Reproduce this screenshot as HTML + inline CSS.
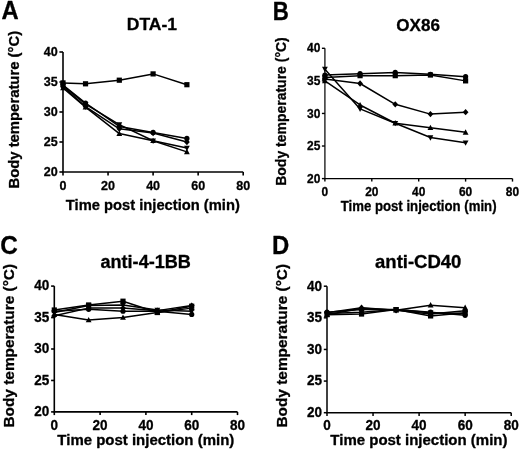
<!DOCTYPE html>
<html><head><meta charset="utf-8"><title>Body temperature</title>
<style>html,body{margin:0;padding:0;background:#fff;}svg{display:block;filter:blur(0.4px);}</style></head>
<body><svg width="520" height="451" viewBox="0 0 520 451" font-family="&quot;Liberation Sans&quot;, sans-serif" font-weight="bold" fill="#000" stroke-linejoin="round">
<style>text{stroke:#000;stroke-width:0.3px;}</style>
<rect width="520" height="451" fill="#fff"/>
<path d="M63.00,52.00V172.00" fill="none" stroke="#000" stroke-width="1.6"/>
<path d="M62.20,172.00H243.20" fill="none" stroke="#000" stroke-width="1.6"/>
<path d="M59.40,52.00H63.00" stroke="#000" stroke-width="1.6"/>
<path d="M59.40,82.00H63.00" stroke="#000" stroke-width="1.6"/>
<path d="M59.40,112.00H63.00" stroke="#000" stroke-width="1.6"/>
<path d="M59.40,142.00H63.00" stroke="#000" stroke-width="1.6"/>
<path d="M59.40,172.00H63.00" stroke="#000" stroke-width="1.6"/>
<path d="M63.00,172.00V175.60" stroke="#000" stroke-width="1.6"/>
<path d="M108.05,172.00V175.60" stroke="#000" stroke-width="1.6"/>
<path d="M153.10,172.00V175.60" stroke="#000" stroke-width="1.6"/>
<path d="M198.15,172.00V175.60" stroke="#000" stroke-width="1.6"/>
<path d="M243.20,172.00V175.60" stroke="#000" stroke-width="1.6"/>
<text x="57.70" y="55.95" font-size="13.2" text-anchor="end" textLength="13.95" lengthAdjust="spacingAndGlyphs">40</text>
<text x="57.70" y="85.95" font-size="13.2" text-anchor="end" textLength="13.95" lengthAdjust="spacingAndGlyphs">35</text>
<text x="57.70" y="115.95" font-size="13.2" text-anchor="end" textLength="13.95" lengthAdjust="spacingAndGlyphs">30</text>
<text x="57.70" y="145.95" font-size="13.2" text-anchor="end" textLength="13.95" lengthAdjust="spacingAndGlyphs">25</text>
<text x="57.70" y="175.95" font-size="13.2" text-anchor="end" textLength="13.95" lengthAdjust="spacingAndGlyphs">20</text>
<text x="63.00" y="190.00" font-size="13.2" text-anchor="middle" textLength="6.97" lengthAdjust="spacingAndGlyphs">0</text>
<text x="108.05" y="190.00" font-size="13.2" text-anchor="middle" textLength="13.95" lengthAdjust="spacingAndGlyphs">20</text>
<text x="153.10" y="190.00" font-size="13.2" text-anchor="middle" textLength="13.95" lengthAdjust="spacingAndGlyphs">40</text>
<text x="198.15" y="190.00" font-size="13.2" text-anchor="middle" textLength="13.95" lengthAdjust="spacingAndGlyphs">60</text>
<text x="243.20" y="190.00" font-size="13.2" text-anchor="middle" textLength="13.95" lengthAdjust="spacingAndGlyphs">80</text>
<path d="M63.00,82.90L85.53,83.80L119.31,80.20L153.10,73.90L186.89,84.70" fill="none" stroke="#000" stroke-width="1.5" stroke-linejoin="round"/>
<rect x="60.40" y="80.30" width="5.20" height="5.20"/>
<rect x="82.93" y="81.20" width="5.20" height="5.20"/>
<rect x="116.71" y="77.60" width="5.20" height="5.20"/>
<rect x="150.50" y="71.30" width="5.20" height="5.20"/>
<rect x="184.29" y="82.10" width="5.20" height="5.20"/>
<path d="M63.00,85.00L85.53,103.00L119.31,126.40L153.10,132.40L186.89,138.40" fill="none" stroke="#000" stroke-width="1.5" stroke-linejoin="round"/>
<circle cx="63.00" cy="85.00" r="2.60"/>
<circle cx="85.53" cy="103.00" r="2.60"/>
<circle cx="119.31" cy="126.40" r="2.60"/>
<circle cx="153.10" cy="132.40" r="2.60"/>
<circle cx="186.89" cy="138.40" r="2.60"/>
<path d="M63.00,86.80L85.53,106.60L119.31,128.80L153.10,133.00L186.89,142.00" fill="none" stroke="#000" stroke-width="1.5" stroke-linejoin="round"/>
<path d="M63.00,83.60L65.90,86.80L63.00,90.00L60.10,86.80Z"/>
<path d="M85.53,103.40L88.42,106.60L85.53,109.80L82.63,106.60Z"/>
<path d="M119.31,125.60L122.21,128.80L119.31,132.00L116.41,128.80Z"/>
<path d="M153.10,129.80L156.00,133.00L153.10,136.20L150.20,133.00Z"/>
<path d="M186.89,138.80L189.79,142.00L186.89,145.20L183.99,142.00Z"/>
<path d="M63.00,85.60L85.53,104.20L119.31,124.60L153.10,140.80L186.89,148.00" fill="none" stroke="#000" stroke-width="1.5" stroke-linejoin="round"/>
<path d="M63.00,88.70L65.90,83.30L60.10,83.30Z"/>
<path d="M85.53,107.30L88.42,101.90L82.63,101.90Z"/>
<path d="M119.31,127.70L122.21,122.30L116.41,122.30Z"/>
<path d="M153.10,143.90L156.00,138.50L150.20,138.50Z"/>
<path d="M186.89,151.10L189.79,145.70L183.99,145.70Z"/>
<path d="M63.00,88.00L85.53,107.20L119.31,133.60L153.10,140.80L186.89,151.90" fill="none" stroke="#000" stroke-width="1.5" stroke-linejoin="round"/>
<path d="M63.00,84.90L65.90,90.30L60.10,90.30Z"/>
<path d="M85.53,104.10L88.42,109.50L82.63,109.50Z"/>
<path d="M119.31,130.50L122.21,135.90L116.41,135.90Z"/>
<path d="M153.10,137.70L156.00,143.10L150.20,143.10Z"/>
<path d="M186.89,148.80L189.79,154.20L183.99,154.20Z"/>
<text x="1.59" y="19.30" font-size="25.0" textLength="17.17" lengthAdjust="spacingAndGlyphs">A</text>
<text x="126.77" y="30.20" font-size="17.2" textLength="50.35" lengthAdjust="spacingAndGlyphs">DTA-1</text>
<text x="65.85" y="209.60" font-size="14.8" textLength="174.01" lengthAdjust="spacingAndGlyphs">Time post injection (min)</text>
<text transform="translate(18.79,188.54) rotate(-90)" x="0" y="0" font-size="15.2" textLength="157.64" lengthAdjust="spacingAndGlyphs">Body temperature (°C)</text>
<path d="M324.90,48.30V178.60" fill="none" stroke="#202020" stroke-width="1.4"/>
<path d="M324.20,178.60H512.50" fill="none" stroke="#000" stroke-width="1.4"/>
<path d="M321.90,48.30H324.90" stroke="#000" stroke-width="1.4"/>
<path d="M321.90,80.87H324.90" stroke="#000" stroke-width="1.4"/>
<path d="M321.90,113.45H324.90" stroke="#000" stroke-width="1.4"/>
<path d="M321.90,146.02H324.90" stroke="#000" stroke-width="1.4"/>
<path d="M321.90,178.60H324.90" stroke="#000" stroke-width="1.4"/>
<path d="M324.90,178.60V181.60" stroke="#000" stroke-width="1.4"/>
<path d="M371.80,178.60V181.60" stroke="#000" stroke-width="1.4"/>
<path d="M418.70,178.60V181.60" stroke="#000" stroke-width="1.4"/>
<path d="M465.60,178.60V181.60" stroke="#000" stroke-width="1.4"/>
<path d="M512.50,178.60V181.60" stroke="#000" stroke-width="1.4"/>
<text x="320.30" y="52.35" font-size="12.6" text-anchor="end" textLength="13.32" lengthAdjust="spacingAndGlyphs">40</text>
<text x="320.30" y="84.92" font-size="12.6" text-anchor="end" textLength="13.32" lengthAdjust="spacingAndGlyphs">35</text>
<text x="320.30" y="117.50" font-size="12.6" text-anchor="end" textLength="13.32" lengthAdjust="spacingAndGlyphs">30</text>
<text x="320.30" y="150.07" font-size="12.6" text-anchor="end" textLength="13.32" lengthAdjust="spacingAndGlyphs">25</text>
<text x="320.30" y="182.65" font-size="12.6" text-anchor="end" textLength="13.32" lengthAdjust="spacingAndGlyphs">20</text>
<text x="324.90" y="195.60" font-size="12.6" text-anchor="middle" textLength="6.66" lengthAdjust="spacingAndGlyphs">0</text>
<text x="371.80" y="195.60" font-size="12.6" text-anchor="middle" textLength="13.32" lengthAdjust="spacingAndGlyphs">20</text>
<text x="418.70" y="195.60" font-size="12.6" text-anchor="middle" textLength="13.32" lengthAdjust="spacingAndGlyphs">40</text>
<text x="465.60" y="195.60" font-size="12.6" text-anchor="middle" textLength="13.32" lengthAdjust="spacingAndGlyphs">60</text>
<text x="512.50" y="195.60" font-size="12.6" text-anchor="middle" textLength="13.32" lengthAdjust="spacingAndGlyphs">80</text>
<path d="M324.90,75.01L360.07,73.71L395.25,72.41L430.43,74.36L465.60,76.64" fill="none" stroke="#000" stroke-width="1.5" stroke-linejoin="round"/>
<circle cx="324.90" cy="75.01" r="2.60"/>
<circle cx="360.07" cy="73.71" r="2.60"/>
<circle cx="395.25" cy="72.41" r="2.60"/>
<circle cx="430.43" cy="74.36" r="2.60"/>
<circle cx="465.60" cy="76.64" r="2.60"/>
<path d="M324.90,77.62L360.07,75.66L395.25,75.66L430.43,75.01L465.60,80.87" fill="none" stroke="#000" stroke-width="1.5" stroke-linejoin="round"/>
<rect x="322.30" y="75.02" width="5.20" height="5.20"/>
<rect x="357.47" y="73.06" width="5.20" height="5.20"/>
<rect x="392.65" y="73.06" width="5.20" height="5.20"/>
<rect x="427.82" y="72.41" width="5.20" height="5.20"/>
<rect x="463.00" y="78.27" width="5.20" height="5.20"/>
<path d="M324.90,78.92L360.07,83.48L395.25,104.33L430.43,114.10L465.60,112.15" fill="none" stroke="#000" stroke-width="1.5" stroke-linejoin="round"/>
<path d="M324.90,75.72L327.80,78.92L324.90,82.12L322.00,78.92Z"/>
<path d="M360.07,80.28L362.98,83.48L360.07,86.68L357.17,83.48Z"/>
<path d="M395.25,101.13L398.15,104.33L395.25,107.53L392.35,104.33Z"/>
<path d="M430.43,110.90L433.33,114.10L430.43,117.30L427.52,114.10Z"/>
<path d="M465.60,108.95L468.50,112.15L465.60,115.35L462.70,112.15Z"/>
<path d="M324.90,80.87L360.07,104.98L395.25,123.22L430.43,127.78L465.60,132.34" fill="none" stroke="#000" stroke-width="1.5" stroke-linejoin="round"/>
<path d="M324.90,77.77L327.80,83.17L322.00,83.17Z"/>
<path d="M360.07,101.88L362.98,107.28L357.17,107.28Z"/>
<path d="M395.25,120.12L398.15,125.52L392.35,125.52Z"/>
<path d="M430.43,124.68L433.33,130.08L427.52,130.08Z"/>
<path d="M465.60,129.24L468.50,134.64L462.70,134.64Z"/>
<path d="M324.90,69.15L360.07,108.89L395.25,123.22L430.43,137.56L465.60,142.77" fill="none" stroke="#000" stroke-width="1.5" stroke-linejoin="round"/>
<path d="M324.90,72.25L327.80,66.85L322.00,66.85Z"/>
<path d="M360.07,111.99L362.98,106.59L357.17,106.59Z"/>
<path d="M395.25,126.32L398.15,120.92L392.35,120.92Z"/>
<path d="M430.43,140.66L433.33,135.26L427.52,135.26Z"/>
<path d="M465.60,145.87L468.50,140.47L462.70,140.47Z"/>
<text x="272.64" y="19.80" font-size="25.5" textLength="16.10" lengthAdjust="spacingAndGlyphs">B</text>
<text x="396.32" y="30.50" font-size="17.0" textLength="43.61" lengthAdjust="spacingAndGlyphs">OX86</text>
<text x="340.67" y="211.30" font-size="14.3" textLength="155.93" lengthAdjust="spacingAndGlyphs">Time post injection (min)</text>
<text transform="translate(286.07,185.78) rotate(-90)" x="0" y="0" font-size="14.6" textLength="148.53" lengthAdjust="spacingAndGlyphs">Body temperature (°C)</text>
<path d="M54.30,286.10V411.90" fill="none" stroke="#000" stroke-width="1.6"/>
<path d="M53.50,411.90H237.50" fill="none" stroke="#000" stroke-width="1.6"/>
<path d="M51.10,286.10H54.30" stroke="#000" stroke-width="1.6"/>
<path d="M51.10,317.55H54.30" stroke="#000" stroke-width="1.6"/>
<path d="M51.10,349.00H54.30" stroke="#000" stroke-width="1.6"/>
<path d="M51.10,380.45H54.30" stroke="#000" stroke-width="1.6"/>
<path d="M51.10,411.90H54.30" stroke="#000" stroke-width="1.6"/>
<path d="M54.30,411.90V415.10" stroke="#000" stroke-width="1.6"/>
<path d="M100.10,411.90V415.10" stroke="#000" stroke-width="1.6"/>
<path d="M145.90,411.90V415.10" stroke="#000" stroke-width="1.6"/>
<path d="M191.70,411.90V415.10" stroke="#000" stroke-width="1.6"/>
<path d="M237.50,411.90V415.10" stroke="#000" stroke-width="1.6"/>
<text x="49.30" y="290.36" font-size="13.8" text-anchor="end" textLength="15.04" lengthAdjust="spacingAndGlyphs">40</text>
<text x="49.30" y="321.81" font-size="13.8" text-anchor="end" textLength="15.04" lengthAdjust="spacingAndGlyphs">35</text>
<text x="49.30" y="353.26" font-size="13.8" text-anchor="end" textLength="15.04" lengthAdjust="spacingAndGlyphs">30</text>
<text x="49.30" y="384.71" font-size="13.8" text-anchor="end" textLength="15.04" lengthAdjust="spacingAndGlyphs">25</text>
<text x="49.30" y="416.16" font-size="13.8" text-anchor="end" textLength="15.04" lengthAdjust="spacingAndGlyphs">20</text>
<text x="54.30" y="430.30" font-size="13.8" text-anchor="middle" textLength="7.52" lengthAdjust="spacingAndGlyphs">0</text>
<text x="100.10" y="430.30" font-size="13.8" text-anchor="middle" textLength="15.04" lengthAdjust="spacingAndGlyphs">20</text>
<text x="145.90" y="430.30" font-size="13.8" text-anchor="middle" textLength="15.04" lengthAdjust="spacingAndGlyphs">40</text>
<text x="191.70" y="430.30" font-size="13.8" text-anchor="middle" textLength="15.04" lengthAdjust="spacingAndGlyphs">60</text>
<text x="237.50" y="430.30" font-size="13.8" text-anchor="middle" textLength="15.04" lengthAdjust="spacingAndGlyphs">80</text>
<path d="M54.30,310.00L88.65,304.97L123.00,301.20L157.35,312.52L191.70,306.23" fill="none" stroke="#000" stroke-width="1.5" stroke-linejoin="round"/>
<rect x="51.70" y="307.40" width="5.20" height="5.20"/>
<rect x="86.05" y="302.37" width="5.20" height="5.20"/>
<rect x="120.40" y="298.60" width="5.20" height="5.20"/>
<rect x="154.75" y="309.92" width="5.20" height="5.20"/>
<rect x="189.10" y="303.63" width="5.20" height="5.20"/>
<path d="M54.30,311.26L88.65,309.37L123.00,311.26L157.35,311.26L191.70,314.41" fill="none" stroke="#000" stroke-width="1.5" stroke-linejoin="round"/>
<circle cx="54.30" cy="311.26" r="2.60"/>
<circle cx="88.65" cy="309.37" r="2.60"/>
<circle cx="123.00" cy="311.26" r="2.60"/>
<circle cx="157.35" cy="311.26" r="2.60"/>
<circle cx="191.70" cy="314.41" r="2.60"/>
<path d="M54.30,314.41L88.65,320.07L123.00,317.55L157.35,312.52L191.70,308.12" fill="none" stroke="#000" stroke-width="1.5" stroke-linejoin="round"/>
<path d="M54.30,311.31L57.20,316.71L51.40,316.71Z"/>
<path d="M88.65,316.97L91.55,322.37L85.75,322.37Z"/>
<path d="M123.00,314.45L125.90,319.85L120.10,319.85Z"/>
<path d="M157.35,309.42L160.25,314.82L154.45,314.82Z"/>
<path d="M191.70,305.01L194.60,310.42L188.80,310.42Z"/>
<path d="M54.30,312.52L88.65,305.60L123.00,304.97L157.35,310.00L191.70,311.26" fill="none" stroke="#000" stroke-width="1.5" stroke-linejoin="round"/>
<path d="M54.30,315.62L57.20,310.22L51.40,310.22Z"/>
<path d="M88.65,308.70L91.55,303.30L85.75,303.30Z"/>
<path d="M123.00,308.07L125.90,302.67L120.10,302.67Z"/>
<path d="M157.35,313.10L160.25,307.70L154.45,307.70Z"/>
<path d="M191.70,314.36L194.60,308.96L188.80,308.96Z"/>
<path d="M54.30,315.66L88.65,308.12L123.00,308.12L157.35,310.63L191.70,305.60" fill="none" stroke="#000" stroke-width="1.5" stroke-linejoin="round"/>
<path d="M54.30,312.46L57.20,315.66L54.30,318.86L51.40,315.66Z"/>
<path d="M88.65,304.91L91.55,308.12L88.65,311.32L85.75,308.12Z"/>
<path d="M123.00,304.91L125.90,308.12L123.00,311.32L120.10,308.12Z"/>
<path d="M157.35,307.43L160.25,310.63L157.35,313.83L154.45,310.63Z"/>
<path d="M191.70,302.40L194.60,305.60L191.70,308.80L188.80,305.60Z"/>
<text x="0.33" y="254.40" font-size="26.0" textLength="17.55" lengthAdjust="spacingAndGlyphs">C</text>
<text x="100.46" y="268.20" font-size="18.0" textLength="90.47" lengthAdjust="spacingAndGlyphs">anti-4-1BB</text>
<text x="57.35" y="445.20" font-size="14.5" textLength="176.92" lengthAdjust="spacingAndGlyphs">Time post injection (min)</text>
<text transform="translate(13.93,427.58) rotate(-90)" x="0" y="0" font-size="15.4" textLength="163.66" lengthAdjust="spacingAndGlyphs">Body temperature (°C)</text>
<path d="M327.00,286.20V412.70" fill="none" stroke="#000" stroke-width="1.5"/>
<path d="M326.25,412.70H511.20" fill="none" stroke="#000" stroke-width="1.5"/>
<path d="M323.80,286.20H327.00" stroke="#000" stroke-width="1.5"/>
<path d="M323.80,317.82H327.00" stroke="#000" stroke-width="1.5"/>
<path d="M323.80,349.45H327.00" stroke="#000" stroke-width="1.5"/>
<path d="M323.80,381.07H327.00" stroke="#000" stroke-width="1.5"/>
<path d="M323.80,412.70H327.00" stroke="#000" stroke-width="1.5"/>
<path d="M327.00,412.70V415.90" stroke="#000" stroke-width="1.5"/>
<path d="M373.05,412.70V415.90" stroke="#000" stroke-width="1.5"/>
<path d="M419.10,412.70V415.90" stroke="#000" stroke-width="1.5"/>
<path d="M465.15,412.70V415.90" stroke="#000" stroke-width="1.5"/>
<path d="M511.20,412.70V415.90" stroke="#000" stroke-width="1.5"/>
<text x="322.00" y="290.56" font-size="13.8" text-anchor="end" textLength="15.04" lengthAdjust="spacingAndGlyphs">40</text>
<text x="322.00" y="322.19" font-size="13.8" text-anchor="end" textLength="15.04" lengthAdjust="spacingAndGlyphs">35</text>
<text x="322.00" y="353.81" font-size="13.8" text-anchor="end" textLength="15.04" lengthAdjust="spacingAndGlyphs">30</text>
<text x="322.00" y="385.44" font-size="13.8" text-anchor="end" textLength="15.04" lengthAdjust="spacingAndGlyphs">25</text>
<text x="322.00" y="417.06" font-size="13.8" text-anchor="end" textLength="15.04" lengthAdjust="spacingAndGlyphs">20</text>
<text x="327.00" y="430.30" font-size="13.8" text-anchor="middle" textLength="7.52" lengthAdjust="spacingAndGlyphs">0</text>
<text x="373.05" y="430.30" font-size="13.8" text-anchor="middle" textLength="15.04" lengthAdjust="spacingAndGlyphs">20</text>
<text x="419.10" y="430.30" font-size="13.8" text-anchor="middle" textLength="15.04" lengthAdjust="spacingAndGlyphs">40</text>
<text x="465.15" y="430.30" font-size="13.8" text-anchor="middle" textLength="15.04" lengthAdjust="spacingAndGlyphs">60</text>
<text x="511.20" y="430.30" font-size="13.8" text-anchor="middle" textLength="15.04" lengthAdjust="spacingAndGlyphs">80</text>
<path d="M327.00,314.66L361.54,308.34L396.07,310.24L430.61,305.17L465.15,307.70" fill="none" stroke="#000" stroke-width="1.5" stroke-linejoin="round"/>
<path d="M327.00,311.56L329.90,316.96L324.10,316.96Z"/>
<path d="M361.54,305.24L364.44,310.64L358.64,310.64Z"/>
<path d="M396.07,307.13L398.98,312.54L393.17,312.54Z"/>
<path d="M430.61,302.07L433.51,307.47L427.71,307.47Z"/>
<path d="M465.15,304.60L468.05,310.00L462.25,310.00Z"/>
<path d="M327.00,314.66L361.54,314.03L396.07,309.60L430.61,315.93L465.15,312.76" fill="none" stroke="#000" stroke-width="1.5" stroke-linejoin="round"/>
<rect x="324.40" y="312.06" width="5.20" height="5.20"/>
<rect x="358.94" y="311.43" width="5.20" height="5.20"/>
<rect x="393.47" y="307.00" width="5.20" height="5.20"/>
<rect x="428.01" y="313.33" width="5.20" height="5.20"/>
<rect x="462.55" y="310.16" width="5.20" height="5.20"/>
<path d="M327.00,312.13L361.54,309.60L396.07,309.60L430.61,312.13L465.15,315.29" fill="none" stroke="#000" stroke-width="1.5" stroke-linejoin="round"/>
<circle cx="327.00" cy="312.13" r="2.60"/>
<circle cx="361.54" cy="309.60" r="2.60"/>
<circle cx="396.07" cy="309.60" r="2.60"/>
<circle cx="430.61" cy="312.13" r="2.60"/>
<circle cx="465.15" cy="315.29" r="2.60"/>
<path d="M327.00,312.76L361.54,307.70L396.07,310.24L430.61,314.03L465.15,310.87" fill="none" stroke="#000" stroke-width="1.5" stroke-linejoin="round"/>
<path d="M327.00,309.56L329.90,312.76L327.00,315.97L324.10,312.76Z"/>
<path d="M361.54,304.50L364.44,307.70L361.54,310.91L358.64,307.70Z"/>
<path d="M396.07,307.03L398.98,310.24L396.07,313.44L393.17,310.24Z"/>
<path d="M430.61,310.83L433.51,314.03L430.61,317.23L427.71,314.03Z"/>
<path d="M465.15,307.67L468.05,310.87L465.15,314.07L462.25,310.87Z"/>
<path d="M327.00,313.40L361.54,312.13L396.07,309.60L430.61,312.76L465.15,313.40" fill="none" stroke="#000" stroke-width="1.5" stroke-linejoin="round"/>
<path d="M327.00,316.50L329.90,311.10L324.10,311.10Z"/>
<path d="M361.54,315.23L364.44,309.83L358.64,309.83Z"/>
<path d="M396.07,312.70L398.98,307.30L393.17,307.30Z"/>
<path d="M430.61,315.87L433.51,310.46L427.71,310.46Z"/>
<path d="M465.15,316.50L468.05,311.10L462.25,311.10Z"/>
<text x="272.12" y="253.60" font-size="25.2" textLength="17.28" lengthAdjust="spacingAndGlyphs">D</text>
<text x="375.05" y="268.40" font-size="18.2" textLength="86.36" lengthAdjust="spacingAndGlyphs">anti-CD40</text>
<text x="330.35" y="445.20" font-size="14.5" textLength="177.12" lengthAdjust="spacingAndGlyphs">Time post injection (min)</text>
<text transform="translate(286.53,427.58) rotate(-90)" x="0" y="0" font-size="15.4" textLength="163.66" lengthAdjust="spacingAndGlyphs">Body temperature (°C)</text>
</svg></body></html>
